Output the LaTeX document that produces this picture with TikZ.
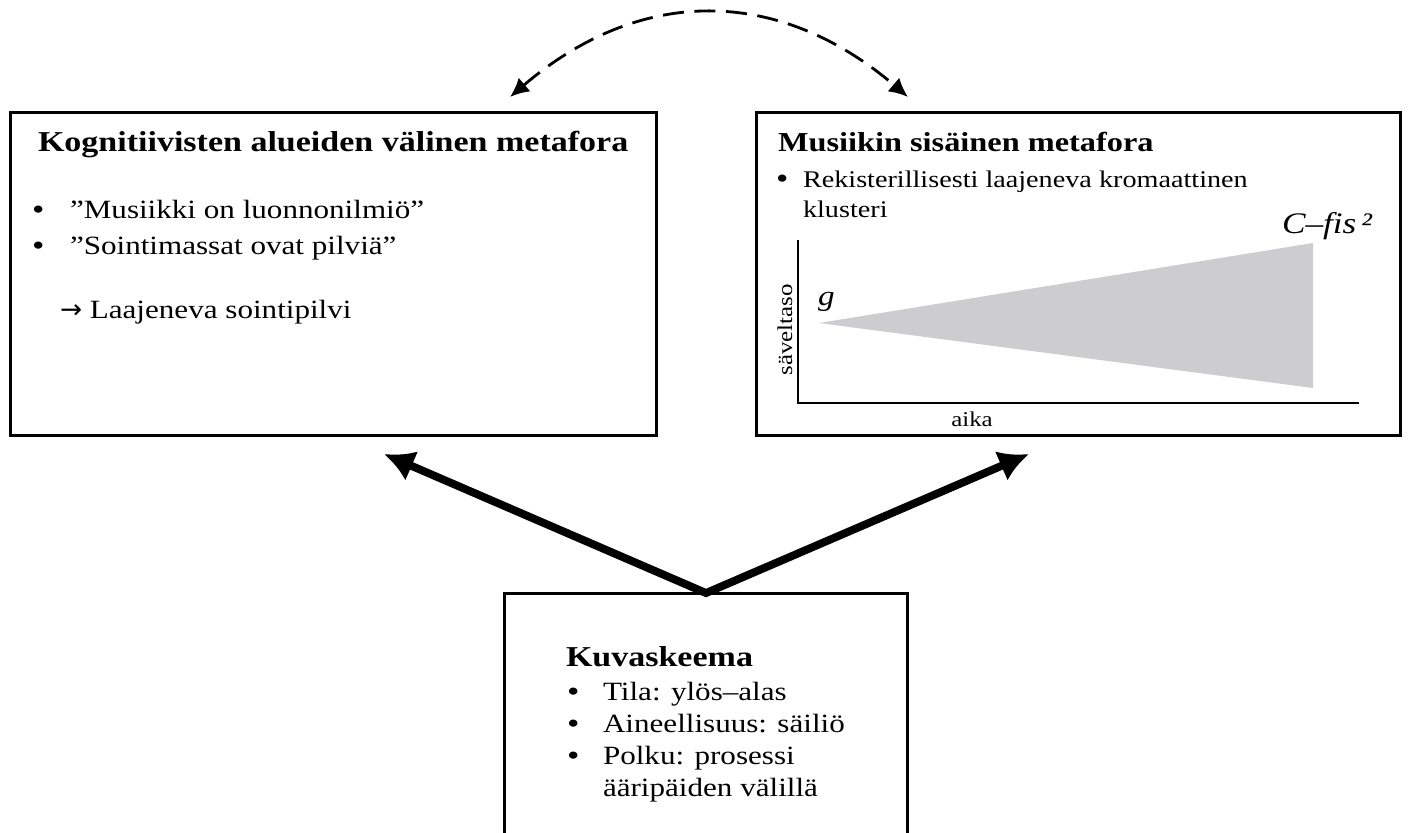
\documentclass[tikz,border=0pt]{standalone}
\usepackage{fontspec}
\setmainfont{Liberation Serif}[FakeStretch=1.18]
\newfontfamily\symfont{DejaVu Sans}
\usetikzlibrary{arrows.meta}

\definecolor{klusteri}{RGB}{205,204,206}

\begin{document}
\begin{tikzpicture}[x=0.02cm, y=-0.02cm]
\tikzset{ >={Latex[length=0.6cm,width=0.64cm]}, inner sep=0pt, outer sep=0pt,
  box/.style={draw, line width=1.7pt},
  head/.style={anchor=base west, font=\fontsize{16.4}{19}\selectfont\bfseries},
  txt/.style={anchor=base west, font=\fontsize{15}{18}\selectfont},
  small/.style={anchor=base west, font=\fontsize{13.6}{16}\selectfont},
  dot/.style={anchor=base west, font=\fontsize{17}{20}\selectfont},
  lbl/.style={font=\fontsize{12}{14}\selectfont},
}

\useasboundingbox (0,0) rectangle (1410,832);

% laatikot
\node [box, minimum width=12.94cm, minimum height=6.48cm] (kog)  at (333.5,274) {};
\node [box, minimum width=12.9cm,  minimum height=6.48cm] (mus)  at (1078.5,274) {};
\node [box, minimum width=8.08cm,  minimum height=5.0cm]  (kuva) at (706,718) {};

% vasen
\node [head] (kogH) at (38,151) {Kognitiivisten alueiden välinen metafora};
\node [dot] (kogB1) at (32,219) {•};
\node [txt] (kogT1) at (70,218) {”Musiikki on luonnonilmiö”};
\node [dot] (kogB2) at (32,255) {•};
\node [txt] (kogT2) at (70,254) {”Sointimassat ovat pilviä”};
\node [txt] (kogT3) at (60,318) {{\symfont →} Laajeneva sointipilvi};

% oikea
\node [head, font=\fontsize{15.6}{19}\selectfont\bfseries] (musH) at (778,151) {Musiikin sisäinen metafora};
\node [dot] (musB1) at (776,188) {•};
\node [small] (musT1) at (803,187) {Rekisterillisesti laajeneva kromaattinen};
\node [small] (musT2) at (803,217) {klusteri};

\fill [klusteri] (819,323) -- (1313,243) -- (1313,388) -- cycle;
\draw [line width=0.7pt] (798,240) |- (1359,403);

\node [anchor=base west, font=\fontsize{16}{19}\selectfont\itshape] (g) at (818,305) {g};
\node [anchor=base west, font=\fontsize{17}{20}\selectfont\itshape] (cfis) at (1282,233) {C–fis\,²};
\node [lbl, rotate=90] (saveltaso) at (785,330) {säveltaso};
\node [lbl] (aika) at (972,419) {aika};

% alhaalla
\node [head] (kuvaH) at (566,666) {Kuvaskeema};
\node [dot] (kuvaB1) at (567,701) {•};
\node [txt] (kuvaT1) at (603,700) {Tila: ylös–alas};
\node [dot] (kuvaB2) at (567,733) {•};
\node [txt] (kuvaT2) at (603,732) {Aineellisuus: säiliö};
\node [dot] (kuvaB3) at (567,765) {•};
\node [txt] (kuvaT3) at (603,764) {Polku: prosessi};
\node [txt] (kuvaT4) at (603,796) {ääripäiden välillä};

% nuolet
\coordinate (al) at (384,454);
\coordinate (ar) at (1029,454);
\draw [<->, line width=4.5pt] (al) -- (kuva.north) -- (ar);

\coordinate (dl) at (510,97);
\coordinate (dr) at (908,97);
\draw [{Latex[length=0.38cm,width=0.36cm]}-{Latex[length=0.38cm,width=0.36cm]},
       line width=1.6pt, dash pattern=on 12pt off 6pt]
      (dl) .. controls (640,-14) and (778,-14) .. (dr);
\end{tikzpicture}
\end{document}
